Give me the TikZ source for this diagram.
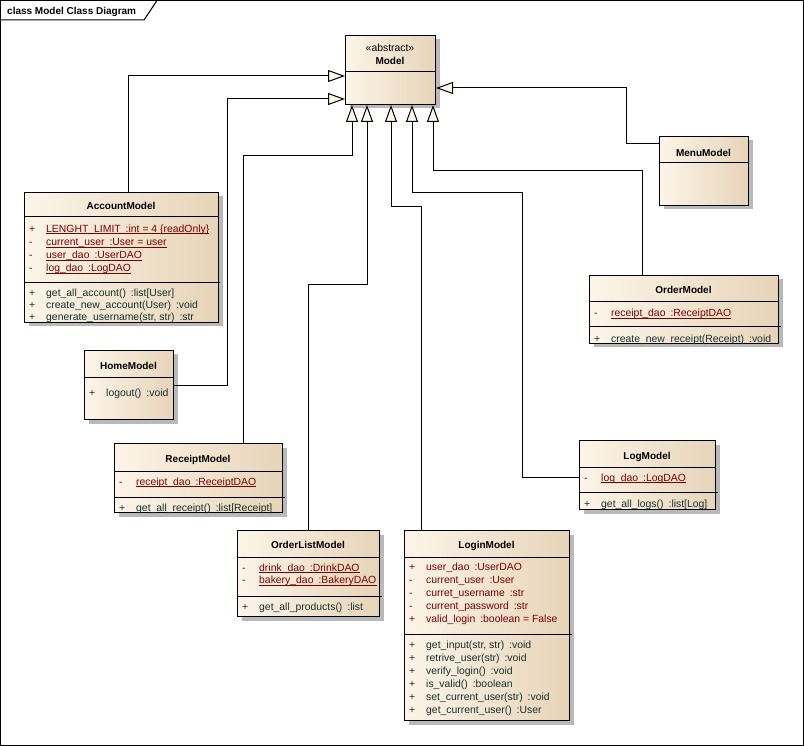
\documentclass[tikz,border=0pt]{standalone}
\usepackage{fontspec}
\setmainfont{Liberation Sans}
\usetikzlibrary{arrows.meta,shadows}

\definecolor{clsL}{RGB}{252,245,232}
\definecolor{clsR}{RGB}{231,212,184}
\definecolor{attrc}{RGB}{128,0,0}
\definecolor{methc}{RGB}{22,48,48}
\definecolor{shadowc}{RGB}{185,185,185}

\tikzset{
  cls/.style={draw=black, line width=1pt, inner sep=0pt, anchor=north west,
    left color=clsL, right color=clsR,
    general shadow={fill=shadowc, shadow xshift=4pt, shadow yshift=-4pt}},
  ttl/.style={font=\bfseries, inner sep=0pt, anchor=base},
  rowtxt/.style={inner sep=0pt, anchor=base west},
  attr/.style={rowtxt, text=attrc},
  meth/.style={rowtxt, text=methc},
  divider/.style={line width=1pt},
  uline/.style={attrc, line width=0.9pt},
  gen/.style={draw, line width=1pt, -{Triangle[length=17pt, width=12pt, fill=clsL]}},
}

% gap between a member name and its type
\newcommand{\tgap}{\hspace{5pt}}
% compartment divider: left x, right x, y
\newcommand{\clsdiv}[3]{\draw[divider] (#1,#3) -- (#2,#3);}
% member rows: node name, box left x, row centre y, visibility, text
\newcommand{\attrrow}[5]{%
  \node[attr] (#1-v) at (#2+5,#3+4) {#4};
  \node[attr] (#1) at (#2+22,#3+4) {#5};}
\newcommand{\attrrowu}[5]{%
  \attrrow{#1}{#2}{#3}{#4}{#5}
  \draw[uline] ([yshift=-1.5pt]#1.base west) -- ([yshift=-1.5pt]#1.base east);}
\newcommand{\methrow}[5]{%
  \node[meth] (#1-v) at (#2+5,#3+4) {#4};
  \node[meth] (#1) at (#2+22,#3+4) {#5};}

\begin{document}
\begin{tikzpicture}[x=1pt, y=-1pt, font=\fontsize{10.4}{12.5}\selectfont]
\useasboundingbox (0,0) rectangle (804,746);

% diagram frame with its name tab
\draw[line width=1pt] (0.5,0.5) rectangle (803.5,745.5);
\draw[line width=1pt] (0.5,20) -- (144,20) -- (157,0.5);
\node[ttl, anchor=base west] (frame-t) at (7,14.5) {class Model Class Diagram};

% Model (abstract base)
\node[cls, minimum width=90pt, minimum height=69pt] (model) at (345,35) {};
\node[inner sep=0pt, anchor=base] (model-s) at (390,52) {«abstract»};
\node[ttl] (model-t) at (390,65) {Model};
\clsdiv{345}{435}{72}

% AccountModel
\node[cls, minimum width=194pt, minimum height=130pt] (account) at (24,192) {};
\node[ttl] (account-t) at (121,209.5) {AccountModel};
\clsdiv{24}{218}{217}
\clsdiv{24}{220}{283}
\attrrowu{acc-a1}{24}{228.3}{+}{LENGHT\_LIMIT\tgap:int = 4 \{readOnly\}}
\attrrowu{acc-a2}{24}{241.5}{-}{current\_user\tgap:User = user}
\attrrowu{acc-a3}{24}{254.7}{-}{user\_dao\tgap:UserDAO}
\attrrowu{acc-a4}{24}{268}{-}{log\_dao\tgap:LogDAO}
\methrow{acc-m1}{24}{292.5}{+}{get\_all\_account()\tgap:list[User]}
\methrow{acc-m2}{24}{304.5}{+}{create\_new\_account(User)\tgap:void}
\methrow{acc-m3}{24}{316.5}{+}{generate\_username(str, str)\tgap:str}

% HomeModel
\node[cls, minimum width=89pt, minimum height=69pt] (home) at (84,350) {};
\node[ttl] (home-t) at (128.5,369.5) {HomeModel};
\clsdiv{84}{173}{377}
\methrow{home-m1}{84}{392}{+}{logout()\tgap:void}

% ReceiptModel
\node[cls, minimum width=168pt, minimum height=69pt] (receipt) at (114,443) {};
\node[ttl] (receipt-t) at (198,462.3) {ReceiptModel};
\clsdiv{114}{282}{471}
\clsdiv{114}{285}{497}
\attrrowu{rec-a1}{114}{481}{-}{receipt\_dao\tgap:ReceiptDAO}
\methrow{rec-m1}{114}{507}{+}{get\_all\_receipt()\tgap:list[Receipt]}

% OrderListModel
\node[cls, minimum width=142pt, minimum height=86pt] (orderlist) at (237,530) {};
\node[ttl] (orderlist-t) at (308,548.3) {OrderListModel};
\clsdiv{237}{379}{557}
\clsdiv{237}{382}{596}
\attrrowu{ol-a1}{237}{567}{-}{drink\_dao\tgap:DrinkDAO}
\attrrowu{ol-a2}{237}{579.7}{-}{bakery\_dao\tgap:BakeryDAO}
\methrow{ol-m1}{237}{606}{+}{get\_all\_products()\tgap:list}

% LoginModel
\node[cls, minimum width=165pt, minimum height=190pt] (login) at (404,530) {};
\node[ttl] (login-t) at (486.5,548.3) {LoginModel};
\clsdiv{404}{569}{557}
\clsdiv{404}{572}{634}
\attrrow{lg-a1}{404}{566.7}{+}{user\_dao\tgap:UserDAO}
\attrrow{lg-a2}{404}{579.7}{-}{current\_user\tgap:User}
\attrrow{lg-a3}{404}{592.7}{-}{curret\_username\tgap:str}
\attrrow{lg-a4}{404}{605.7}{-}{current\_password\tgap:str}
\attrrow{lg-a5}{404}{618.7}{+}{valid\_login\tgap:boolean = False}
\methrow{lg-m1}{404}{644.3}{+}{get\_input(str, str)\tgap:void}
\methrow{lg-m2}{404}{657.3}{+}{retrive\_user(str)\tgap:void}
\methrow{lg-m3}{404}{670.3}{+}{verify\_login()\tgap:void}
\methrow{lg-m4}{404}{683.3}{+}{is\_valid()\tgap:boolean}
\methrow{lg-m5}{404}{696.3}{+}{set\_current\_user(str)\tgap:void}
\methrow{lg-m6}{404}{709.3}{+}{get\_current\_user()\tgap:User}

% MenuModel
\node[cls, minimum width=89pt, minimum height=69pt] (menu) at (659,136) {};
\node[ttl] (menu-t) at (703.5,156.7) {MenuModel};
\clsdiv{659}{748}{163}

% OrderModel
\node[cls, minimum width=189pt, minimum height=68pt] (order) at (589,275) {};
\node[ttl] (order-t) at (683.5,294) {OrderModel};
\clsdiv{589}{778}{302}
\clsdiv{589}{781}{327}
\attrrowu{ord-a1}{589}{313}{-}{receipt\_dao\tgap:ReceiptDAO}
\methrow{ord-m1}{589}{338}{+}{create\_new\_receipt(Receipt)\tgap:void}

% LogModel
\node[cls, minimum width=136pt, minimum height=69pt] (log) at (579,440) {};
\node[ttl] (log-t) at (647,459) {LogModel};
\clsdiv{579}{715}{467}
\clsdiv{579}{718}{492}
\attrrowu{log-a1}{579}{477}{-}{log\_dao\tgap:LogDAO}
\methrow{log-m1}{579}{503}{+}{get\_all\_logs()\tgap:list[Log]}

% generalisations towards Model
\draw[gen] ([xshift=104pt]account.north west) |- ([yshift=-41pt]model.north west);
\draw[gen] (home.east) -| (227,99) -- ([yshift=-64pt]model.north west);
\draw[gen] ([yshift=-8pt]menu.north west) -| (626,88) -- ([yshift=-53pt]model.north east);
\draw[gen] ([xshift=129pt]receipt.north west) |- (352,156) -- ([xshift=7pt]model.south west);
\draw[gen] ([xshift=71pt]orderlist.north west) |- (367,285) -- ([xshift=22pt]model.south west);
\draw[gen] ([xshift=17pt]login.north west) |- (391,207) -- ([xshift=46pt]model.south west);
\draw[gen] ([yshift=-37pt]log.north west) -| (522,193) -- (412,193) -- ([xshift=67pt]model.south west);
\draw[gen] ([xshift=53pt]order.north west) |- (433,171) -- ([xshift=88pt]model.south west);
\end{tikzpicture}
\end{document}
